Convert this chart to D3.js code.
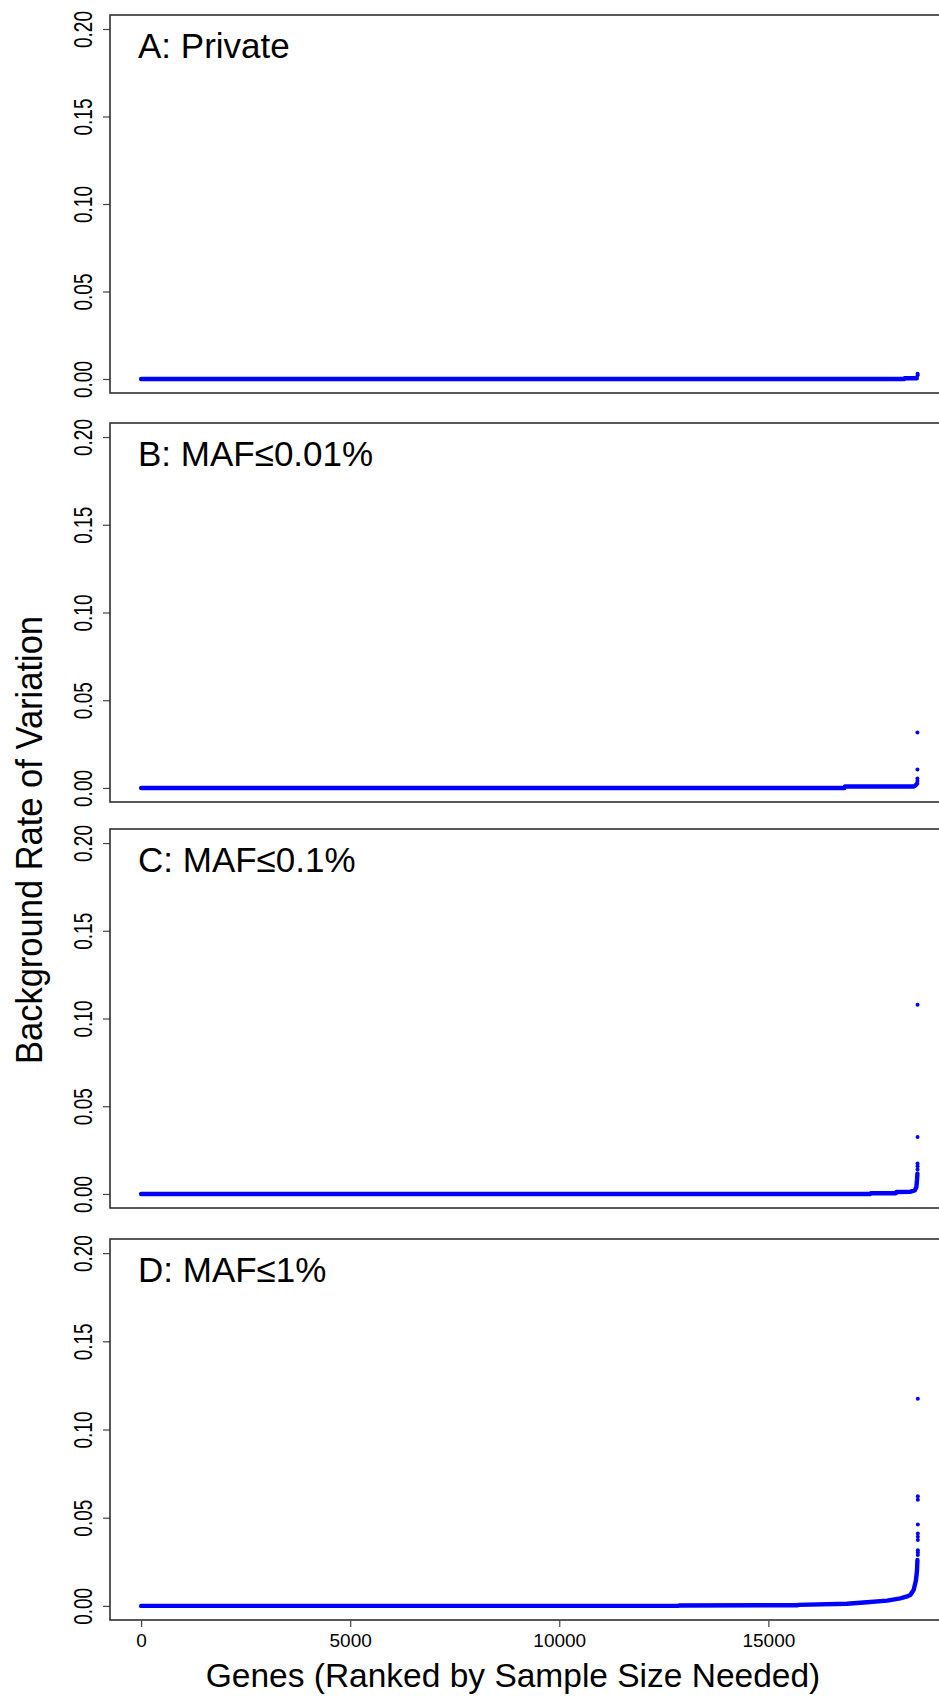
<!DOCTYPE html>
<html>
<head>
<meta charset="utf-8">
<script src="https://cdn.jsdelivr.net/npm/d3@7"></script>
<style>
  body { margin: 0; background: #fff; }
  text { font-family: "Liberation Sans", Arial, sans-serif; fill: #000; }
</style>
</head>
<body>
<div id="chart"></div>
<script>
// data: rank of gene vs background rate
const nGenes = 18600;
const panelNames = ["A: Private", "B: MAF\u22640.01%", "C: MAF\u22640.1%", "D: MAF\u22641%"];
const yTicks = [0, 0.05, 0.10, 0.15, 0.20];
const xTicks = [0, 5000, 10000, 15000];

// dense part of each series (looks like a thick line)
const privateLine = [[0, 0], [18250, 0], [18260, 0.0004], [18550, 0.0004]];
const maf001Line = [[0, 0], [16820, 0], [16830, 0.0008], [18470, 0.0008], [18520, 0.0015], [18555, 0.0025]];
const maf01Line = [[0, 0], [17440, 0], [17450, 0.0004], [18050, 0.0004], [18060, 0.0011], [18400, 0.0013],
  [18500, 0.002], [18540, 0.004], [18555, 0.008], [18565, 0.0116]];
const maf1Line = [[0, 0], [12850, 0], [12860, 0.0002], [15700, 0.0004], [15710, 0.0006], [16880, 0.0012],
  [17360, 0.0021], [17840, 0.0030], [18155, 0.0043], [18300, 0.0052], [18395, 0.0062], [18474, 0.009],
  [18530, 0.0146], [18555, 0.020], [18565, 0.026]];

// isolated top genes
const privateDots = [[18570, 0.0030], [18570, 0.0022]];
const maf001Dots = [[18565, 0.0316], [18565, 0.0105], [18565, 0.0054], [18565, 0.0040]];
const maf01Dots = [[18568, 0.1079], [18568, 0.0324], [18568, 0.0173], [18568, 0.0158], [18568, 0.0139]];
const maf1Dots = [[18575, 0.1174], [18575, 0.0621], [18575, 0.0602], [18575, 0.0462], [18575, 0.0411],
  [18575, 0.0392], [18575, 0.0373], [18575, 0.0316], [18575, 0.0302], [18575, 0.0288]];

const lines = [privateLine, maf001Line, maf01Line, maf1Line];
const dots = [privateDots, maf001Dots, maf01Dots, maf1Dots];

const width = 939, height = 1698;
const left = 110, right = 950;
const tops = [15, 423, 829, 1239];
const bottoms = [393, 802, 1208, 1620];

const svg = d3.select("#chart")
  .append("svg")
  .attr("width", width)
  .attr("height", height);

// R style 4% padding on both axes
const x = d3.scaleLinear()
  .domain([-0.04 * nGenes, 1.04 * nGenes])
  .range([left, right]);

panelNames.forEach((name, i) => {
  const y = d3.scaleLinear()
    .domain([-0.008, 0.208])
    .range([bottoms[i], tops[i]]);

  const g = svg.append("g");

  // y axis
  const yAxis = g.append("g")
    .attr("transform", `translate(${left},0)`)
    .call(d3.axisLeft(y).tickValues(yTicks).tickFormat(d3.format(".2f")).tickSize(7).tickSizeOuter(0));
  yAxis.select(".domain").remove();
  yAxis.selectAll("line").attr("stroke", "#444").attr("stroke-width", 1.2);
  yAxis.selectAll("text")
    .attr("x", null)
    .attr("dy", null)
    .attr("text-anchor", "middle")
    .attr("transform", "translate(-18,0) rotate(-90) scale(1,1.4)")
    .style("font-size", "19px")
    .style("font-family", "'Liberation Sans', Arial, sans-serif")
    .attr("fill", "#000");

  // series
  g.append("path")
    .datum(lines[i])
    .attr("fill", "none")
    .attr("stroke", "#0000ff")
    .attr("stroke-width", 4.4)
    .attr("stroke-linecap", "round")
    .attr("stroke-linejoin", "round")
    .attr("d", d3.line().x(d => x(d[0])).y(d => y(d[1])));

  g.selectAll("circle")
    .data(dots[i])
    .join("circle")
    .attr("cx", d => x(d[0]))
    .attr("cy", d => y(d[1]))
    .attr("r", 2)
    .attr("fill", "#0000ff");

  // box
  g.append("rect")
    .attr("x", left)
    .attr("y", tops[i])
    .attr("width", right - left)
    .attr("height", bottoms[i] - tops[i])
    .attr("fill", "none")
    .attr("stroke", "#222")
    .attr("stroke-width", 1.5);

  // panel label
  g.append("text")
    .attr("x", 138)
    .attr("y", tops[i] + 43)
    .style("font-size", "35px")
    .text(name);
});

// x axis only on the last panel
const xAxis = svg.append("g")
  .attr("transform", `translate(0,${bottoms[3]})`)
  .call(d3.axisBottom(x).tickValues(xTicks).tickFormat(d3.format("d")).tickSize(7).tickSizeOuter(0));
xAxis.select(".domain").remove();
xAxis.selectAll("line").attr("stroke", "#444").attr("stroke-width", 1.2);
xAxis.selectAll("text")
  .attr("y", 27)
  .attr("dy", null)
  .style("font-size", "19px")
  .style("font-family", "'Liberation Sans', Arial, sans-serif")
  .attr("fill", "#000");

// axis titles
svg.append("text")
  .attr("x", 513)
  .attr("y", 1687)
  .attr("text-anchor", "middle")
  .style("font-size", "33.5px")
  .text("Genes (Ranked by Sample Size Needed)");

svg.append("text")
  .attr("text-anchor", "middle")
  .attr("transform", "translate(42,840) rotate(-90) scale(1,1.09)")
  .style("font-size", "34.5px")
  .text("Background Rate of Variation");
</script>
</body>
</html>
